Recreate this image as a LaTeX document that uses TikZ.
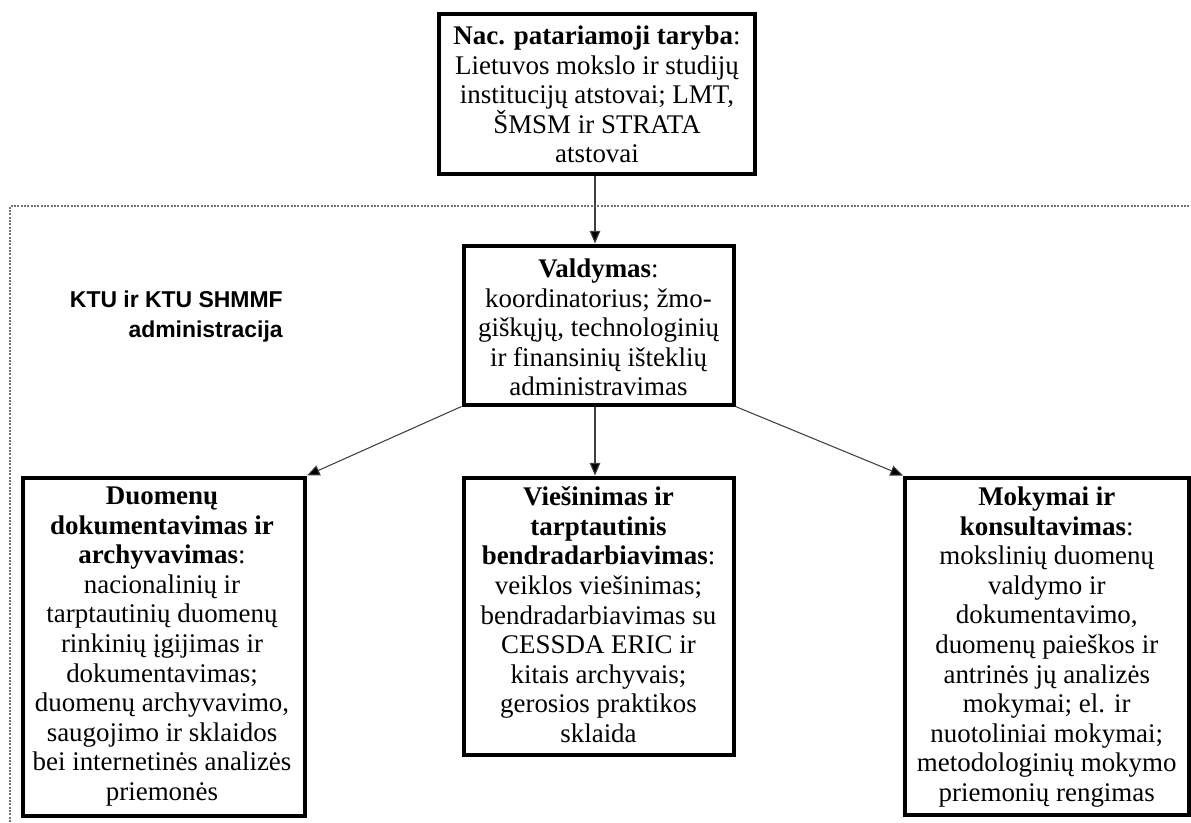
\documentclass[tikz,border=0pt]{standalone}
\usepackage{fontspec}
\setmainfont{Liberation Serif}
\newfontfamily\labelsans{Liberation Sans}
\usetikzlibrary{arrows.meta}
\begin{document}
\begin{tikzpicture}[x=0.75pt,y=-0.75pt,
  box/.style={draw=black,line width=3pt,rectangle,inner sep=0pt},
  txt/.style={anchor=north,inner sep=0pt,align=center,font=\fontsize{20.2}{22.2}\selectfont},
  arr/.style={draw=black!75,line width=0.8pt,-{Triangle[length=9.5pt,width=8pt,fill=black]}},
  frame/.style={draw=black!55,line width=0.8pt,dash pattern=on 1.6pt off 0.9pt}
]
\useasboundingbox (0,0) rectangle (1191,822);
% dotted frame (cropped)
\coordinate (fbl) at (10,822);
\coordinate (ftl) at (10,206);
\coordinate (ftr) at (1191,206);
\draw[frame] (fbl) -- (ftl) -- (ftr);

% boxes
\node[box,minimum width=316*0.75pt,minimum height=160.5*0.75pt] (top) at (597,93.75) {};
\node[box,minimum width=270*0.75pt,minimum height=159*0.75pt] (vald) at (598.5,325) {};
\node[box,minimum width=282.5*0.75pt,minimum height=338*0.75pt] (left) at (163.75,646.5) {};
\node[box,minimum width=270*0.75pt,minimum height=277.5*0.75pt] (mid) at (598.5,616.25) {};
\node[box,minimum width=283.5*0.75pt,minimum height=337.5*0.75pt] (right) at (1046.75,646.25) {};

% texts
\node[txt] (toptxt) at (597,25.5) {\textbf{Nac. patariamoji taryba}:\\ Lietuvos mokslo ir studijų\\ institucijų atstovai; LMT,\\ ŠMSM ir STRATA\\ atstovai};
\node[txt] (valdtxt) at (598.5,258.5) {\textbf{Valdymas}:\\ koordinatorius; žmo-\\ giškųjų, technologinių\\ ir finansinių išteklių\\ administravimas};
\node[txt] (lefttxt) at (162,486.5) {\textbf{Duomenų}\\ \textbf{dokumentavimas ir}\\ \textbf{archyvavimas}:\\ nacionalinių ir\\ tarptautinių duomenų\\ rinkinių įgijimas ir\\ dokumentavimas;\\ duomenų archyvavimo,\\ saugojimo ir sklaidos\\ bei internetinės analizės\\ priemonės};
\node[txt] (midtxt) at (598.5,486.5) {\textbf{Viešinimas ir}\\ \textbf{tarptautinis}\\ \textbf{bendradarbiavimas}:\\ veiklos viešinimas;\\ bendradarbiavimas su\\ CESSDA ERIC ir\\ kitais archyvais;\\ gerosios praktikos\\ sklaida};
\node[txt] (righttxt) at (1046.75,486.5) {\textbf{Mokymai ir}\\ \textbf{konsultavimas}:\\ mokslinių duomenų\\ valdymo ir\\ dokumentavimo,\\ duomenų paieškos ir\\ antrinės jų analizės\\ mokymai; el. ir\\ nuotoliniai mokymai;\\ metodologinių mokymo\\ priemonių rengimas};

% side label
\node[anchor=east,inner sep=0pt,align=right,font=\labelsans\bfseries\fontsize{17.2}{22.5}\selectfont] (ktu) at (283,317) {KTU ir KTU SHMMF\\ administracija};

% arrows
\coordinate (ax) at (595,0);
\draw[arr] (top.south -| ax) -- (vald.north -| ax);
\draw[arr] (vald.south -| ax) -- (mid.north -| ax);
\draw[arr] (vald.south west) -- (left.north east);
\draw[arr] (vald.south east) -- (right.north west);
\end{tikzpicture}
\end{document}
